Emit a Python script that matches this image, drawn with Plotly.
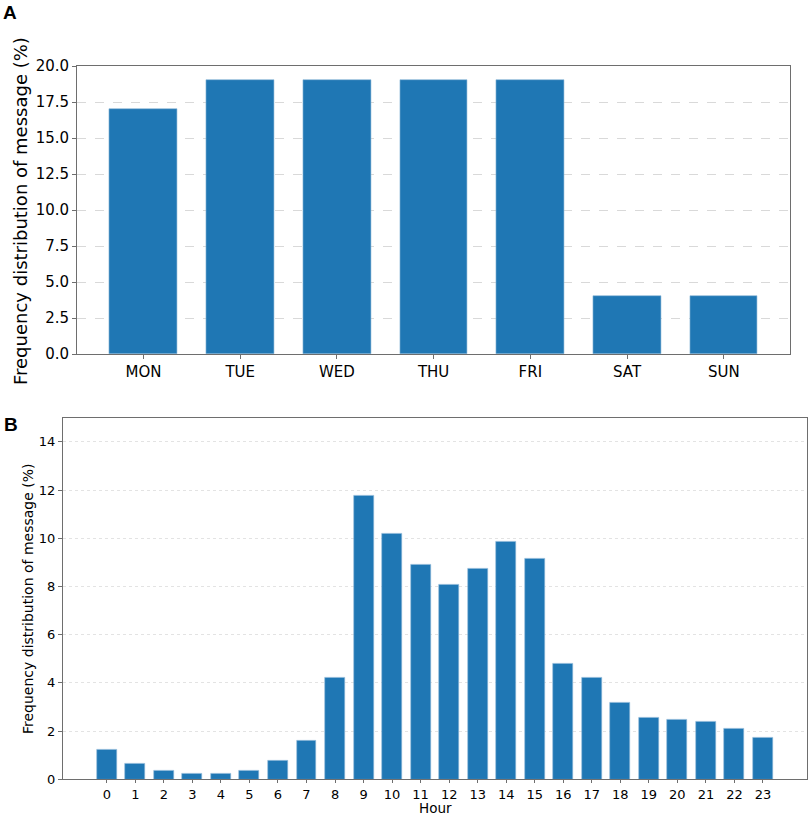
import plotly.graph_objects as go

# ─────────────────────────────────────────
# DONNÉES
# ─────────────────────────────────────────
days = ["MON", "TUE", "WED", "THU", "FRI", "SAT", "SUN"]
day_freq = [17.0, 19.0, 19.0, 19.0, 19.0, 4.0, 4.0]

hours = list(range(24))
hour_freq = [1.22, 0.66, 0.36, 0.23, 0.23, 0.36, 0.76, 1.62, 4.23, 11.78,
             10.2, 8.9, 8.07, 8.74, 9.87, 9.17, 4.81, 4.2, 3.18, 2.57,
             2.49, 2.37, 2.1, 1.74]

day_ticks = [0.0, 2.5, 5.0, 7.5, 10.0, 12.5, 15.0, 17.5, 20.0]
hour_ticks = [0, 2, 4, 6, 8, 10, 12, 14]

BLUE = "#1f77b4"
FONT = "DejaVu Sans"
FRAME = "#6e6e6e"

fig = go.Figure()

# Panel A — par jour
fig.add_trace(go.Bar(
    x=list(range(len(days))), y=day_freq, width=0.7,
    marker=dict(color=BLUE, line=dict(color="#8fb8d8", width=0.6)),
    xaxis="x", yaxis="y", showlegend=False
))

# Panel B — par heure
fig.add_trace(go.Bar(
    x=hours, y=hour_freq, width=0.7,
    marker=dict(color=BLUE, line=dict(color="#8fb8d8", width=0.6)),
    xaxis="x2", yaxis="y2", showlegend=False
))

axis_common = dict(
    showline=True, linecolor=FRAME, linewidth=1.2, mirror=True,
    ticks="outside", ticklen=4, tickcolor=FRAME, zeroline=False,
    automargin=False,
)

fig.update_layout(
    width=809, height=815,
    margin=dict(l=0, r=0, t=0, b=0, autoexpand=False),
    plot_bgcolor="white", paper_bgcolor="white",
    font=dict(family=FONT, color="black"),
    bargap=0,
    xaxis=dict(
        domain=[0.0955, 0.9765], range=[-0.685, 6.685],
        tickvals=list(range(len(days))), ticktext=days,
        tickfont=dict(size=15), showgrid=False, anchor="y",
        **axis_common
    ),
    yaxis=dict(
        domain=[0.5655, 0.919], range=[0, 20],
        tickvals=day_ticks, tickformat=".1f", tickfont=dict(size=15),
        showgrid=True, gridcolor="#d9d9d9", griddash="dash", gridwidth=0.8,
        anchor="x", **axis_common
    ),
    xaxis2=dict(
        domain=[0.0779, 0.9972], range=[-1.535, 24.535],
        tickvals=hours, tickfont=dict(size=13), showgrid=False, anchor="y2",
        ticklen=3,
        **{k: v for k, v in axis_common.items() if k != "ticklen"}
    ),
    yaxis2=dict(
        domain=[0.0438, 0.4875], range=[0, 15],
        tickvals=hour_ticks, tickfont=dict(size=13),
        showgrid=True, gridcolor="#e3e3e3", griddash="dot", gridwidth=0.8,
        anchor="x2", **axis_common
    ),
)

# Titres des axes et lettres des panneaux
fig.add_annotation(
    text="Frequency distribution of message (%)", textangle=-90,
    x=20 / 809, y=1 - 211 / 815, xref="paper", yref="paper",
    xanchor="center", yanchor="middle",
    showarrow=False, font=dict(size=18)
)
fig.add_annotation(
    text="Frequency distribution of message (%)", textangle=-90,
    x=28 / 809, y=1 - 599 / 815, xref="paper", yref="paper",
    xanchor="center", yanchor="middle",
    showarrow=False, font=dict(size=14)
)
fig.add_annotation(
    text="Hour", x=435 / 809, y=1 - 808 / 815, xref="paper", yref="paper",
    xanchor="center", yanchor="middle",
    showarrow=False, font=dict(size=13.5)
)
fig.add_annotation(
    text="<b>A</b>", x=1 / 809, y=1 - 12 / 815, xref="paper", yref="paper",
    xanchor="left", yanchor="middle", showarrow=False,
    font=dict(family="Liberation Sans", size=19)
)
fig.add_annotation(
    text="<b>B</b>", x=2 / 809, y=1 - 424 / 815, xref="paper", yref="paper",
    xanchor="left", yanchor="middle", showarrow=False,
    font=dict(family="Liberation Sans", size=19)
)

# la page a une marge de 8px par défaut : on l'enlève
fig.write_html(
    "out.html",
    config={"displayModeBar": False},
    post_script="document.body.style.margin = '0';"
)
